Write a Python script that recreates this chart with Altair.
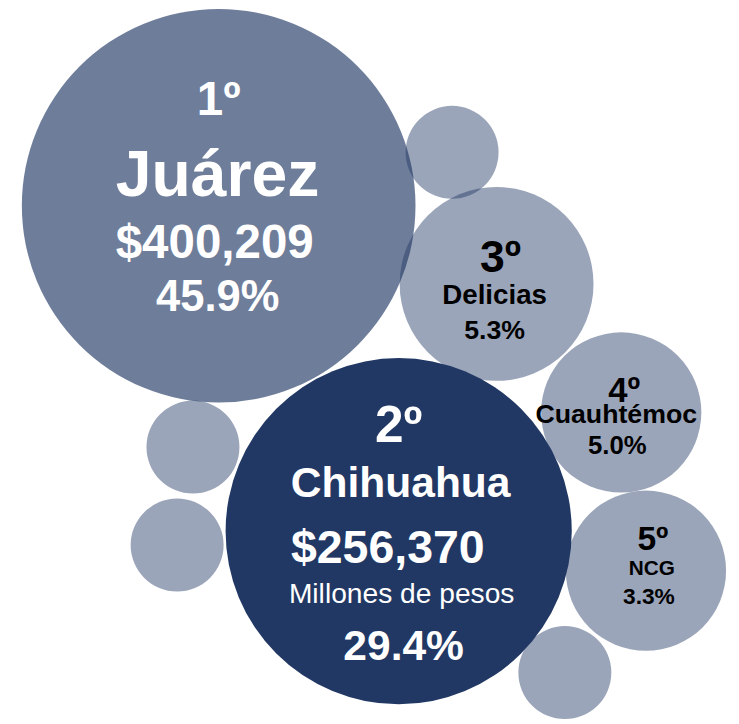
import altair as alt
import pandas as pd

# ---- data ----
ranks = ["1º", "2º", "3º", "4º", "5º"]
municipios = ["Juárez", "Chihuahua", "Delicias", "Cuauhtémoc", "NCG"]
montos = ["$400,209", "$256,370", "", "", ""]
porcentajes = ["45.9%", "29.4%", "5.3%", "5.0%", "3.3%"]
unidad = "Millones de pesos"

# ---- layout (pixel space of the picture) ----
bub_x = [221, 403, 502, 628, 653, 457, 195, 179, 571]
bub_y = [204, 533, 283, 413, 573, 150, 448, 547, 676]
bub_r = [199, 175, 98, 81, 81, 47, 47, 47, 47]
bub_op = [0.65, 1.0, 0.45, 0.45, 0.45, 0.45, 0.45, 0.45, 0.45]
NAVY = "#213864"

bub = pd.DataFrame({
    "x": bub_x, "y": bub_y,
    # Vega circle symbol: radius = sqrt(size) / 2
    "area": [(2 * r) ** 2 for r in bub_r],
    "op": bub_op,
    "order": [1, 9, 3, 4, 5, 2, 6, 7, 8],
})

# text rows: (x, baseline y, text, size, color)
lab = []
def add(x, y, t, s, c):
    lab.append({"x": x, "y": y, "t": t, "s": s, "c": c})

W, K = "#ffffff", "#000000"
add(221, 112, ranks[0], 48, W)
add(220, 194, municipios[0], 65, W)
add(217, 257, montos[0], 48, W)
add(220, 310, porcentajes[0], 44, W)

add(403, 443, ranks[1], 52, W)
add(405, 498, municipios[1], 43, W)
add(392, 565, montos[1], 47, W)
add(408, 663, porcentajes[1], 43, W)

add(506, 271, ranks[2], 45, K)
add(500, 303, municipios[2], 28, K)
add(500, 339, porcentajes[2], 27, K)

add(631, 402, ranks[3], 35, K)
add(623, 424, municipios[3], 27, K)
add(624, 455, porcentajes[3], 26, K)

add(660, 552, ranks[4], 34, K)
add(659, 577, municipios[4], 21, K)
add(656, 607, porcentajes[4], 23, K)
labels = pd.DataFrame(lab)

sub = pd.DataFrame({"x": [406], "y": [606], "t": [unidad], "s": [28.5], "c": [W]})

WID, HEI = 731, 716
xs = alt.Scale(domain=[8, 8 + WID], range=[0, WID], nice=False, zero=False)
ys = alt.Scale(domain=[8, 8 + HEI], range=[0, HEI], nice=False, zero=False)

circles = alt.Chart(bub).mark_circle(color=NAVY, stroke=None).encode(
    x=alt.X("x:Q", scale=xs, axis=None),
    y=alt.Y("y:Q", scale=ys, axis=None),
    size=alt.Size("area:Q", scale=None, legend=None),
    opacity=alt.Opacity("op:Q", scale=None, legend=None),
    order=alt.Order("order:Q"),
)

texts = alt.Chart(labels).mark_text(
    font="Liberation Sans", fontWeight="bold", baseline="alphabetic", align="center"
).encode(
    x=alt.X("x:Q", scale=xs, axis=None),
    y=alt.Y("y:Q", scale=ys, axis=None),
    text="t:N",
    size=alt.Size("s:Q", scale=None, legend=None),
    color=alt.Color("c:N", scale=None, legend=None),
)

subt = alt.Chart(sub).mark_text(
    font="Liberation Sans", fontWeight="normal", baseline="alphabetic", align="center"
).encode(
    x=alt.X("x:Q", scale=xs, axis=None),
    y=alt.Y("y:Q", scale=ys, axis=None),
    text="t:N",
    size=alt.Size("s:Q", scale=None, legend=None),
    color=alt.Color("c:N", scale=None, legend=None),
)

chart = alt.layer(circles, texts, subt).properties(
    width=WID, height=HEI, padding=0, autosize=alt.AutoSizeParams(type="none")
).configure_view(stroke=None).resolve_scale(size="independent", color="independent")

chart.save("out.html", embed_options={"renderer": "svg", "actions": False})
